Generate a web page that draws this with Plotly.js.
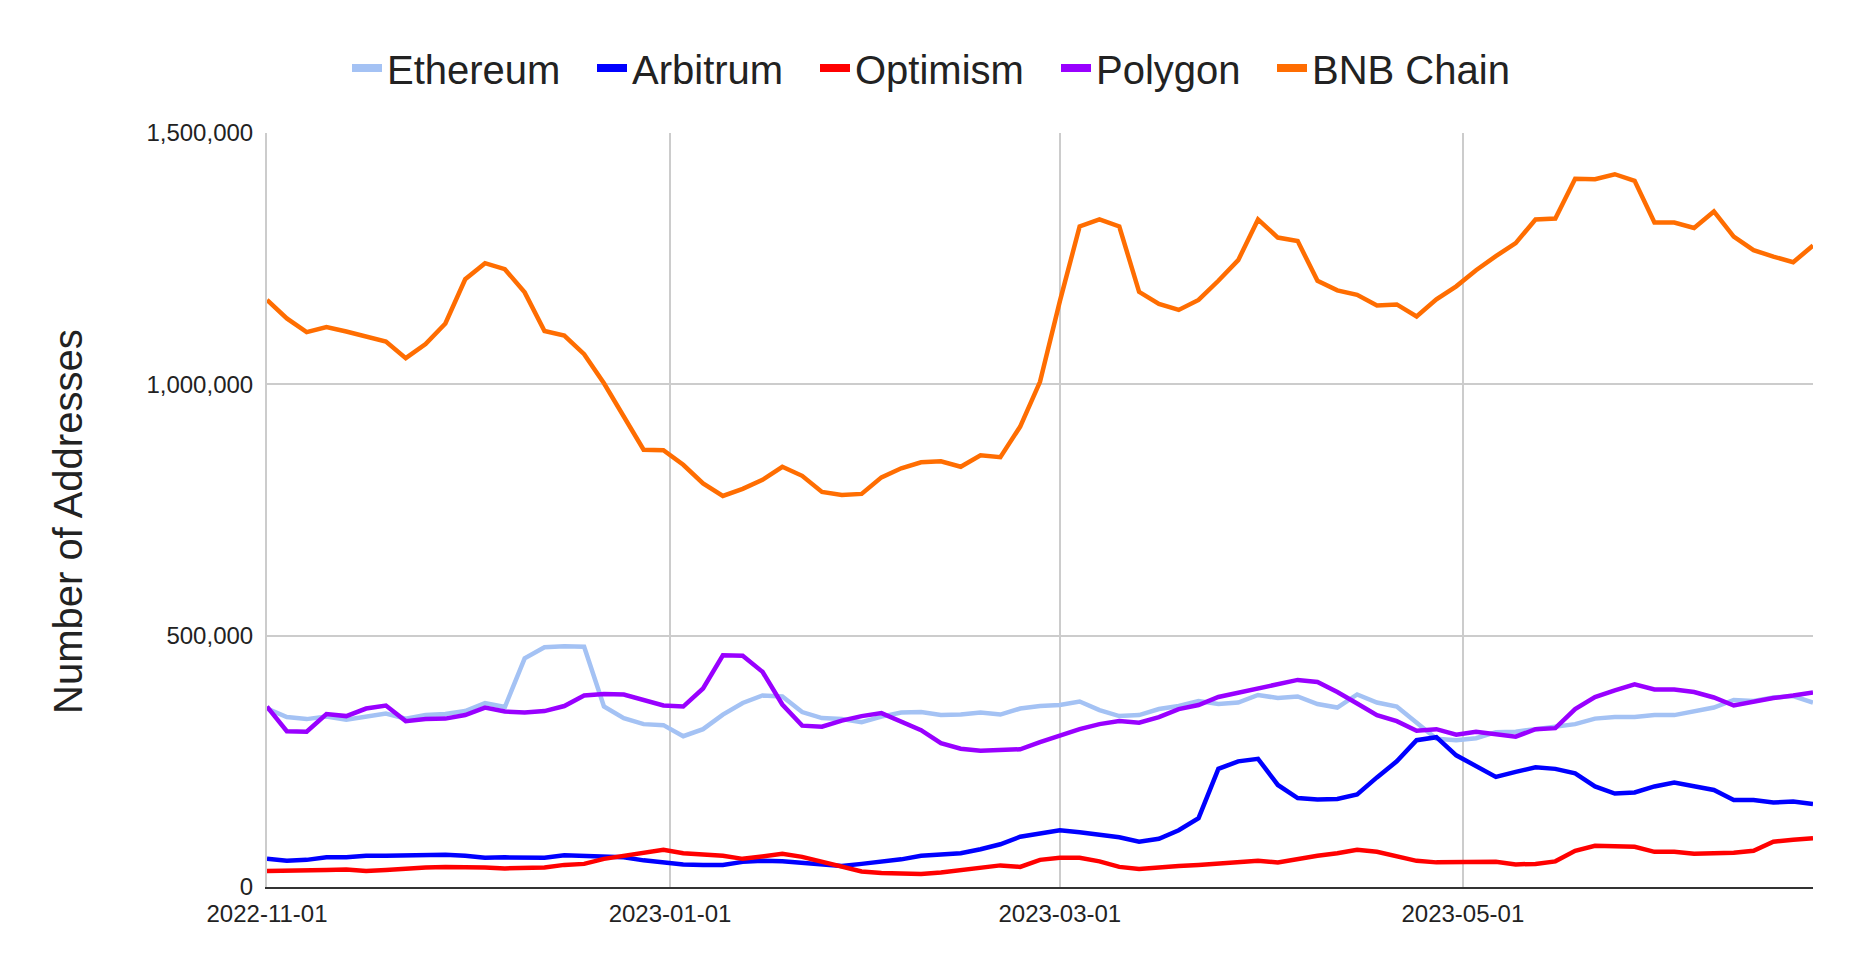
<!DOCTYPE html>
<html>
<head>
<meta charset="utf-8">
<script src="https://cdn.plot.ly/plotly-3.0.1.min.js"></script>
<style>
  html, body { margin: 0; padding: 0; background: #ffffff; }
  #chart { width: 1862px; height: 972px; }
</style>
</head>
<body>
<div id="chart"></div>
<script>
const dates = [
  '2022-11-01','2022-11-04','2022-11-07','2022-11-10','2022-11-13','2022-11-16','2022-11-19','2022-11-22','2022-11-25','2022-11-28',
  '2022-12-01','2022-12-04','2022-12-07','2022-12-10','2022-12-13','2022-12-16','2022-12-19','2022-12-22','2022-12-25','2022-12-28',
  '2022-12-31','2023-01-03','2023-01-06','2023-01-09','2023-01-12','2023-01-15','2023-01-18','2023-01-21','2023-01-24','2023-01-27',
  '2023-01-30','2023-02-02','2023-02-05','2023-02-08','2023-02-11','2023-02-14','2023-02-17','2023-02-20','2023-02-23','2023-02-26',
  '2023-03-01','2023-03-04','2023-03-07','2023-03-10','2023-03-13','2023-03-16','2023-03-19','2023-03-22','2023-03-25','2023-03-28',
  '2023-03-31','2023-04-03','2023-04-06','2023-04-09','2023-04-12','2023-04-15','2023-04-18','2023-04-21','2023-04-24','2023-04-27',
  '2023-04-30','2023-05-03','2023-05-06','2023-05-09','2023-05-12','2023-05-15','2023-05-18','2023-05-21','2023-05-24','2023-05-27',
  '2023-05-30','2023-06-02','2023-06-05','2023-06-08','2023-06-11','2023-06-14','2023-06-17','2023-06-20','2023-06-23'
];

const ethereum = [
  355000,338000,334000,339000,333000,340000,345000,335000,342000,344000,
  350000,366000,358000,455000,477000,479000,478000,359000,336000,324000,
  322000,300000,314000,343000,366000,381000,379000,348000,336000,334000,
  328000,339000,347000,348000,342000,343000,347000,343000,355000,360000,
  362000,369000,352000,340000,342000,354000,360000,370000,364000,367000,
  382000,376000,379000,364000,357000,383000,367000,359000,326000,295000,
  292000,296000,308000,309000,314000,318000,324000,335000,338000,338000,
  342000,342000,350000,357000,372000,370000,377000,380000,367000
];

const arbitrum = [
  56000,52000,54000,59000,59000,62000,62000,63000,65000,64000,
  62000,58000,59000,59000,58000,63000,62000,62000,59000,53000,
  49000,45000,44000,44000,50000,52000,51000,48000,44000,42000,
  46000,50000,55000,62000,64000,67000,75000,85000,100000,107000,
  113000,109000,104000,99000,90000,96000,113000,137000,235000,250000,
  255000,203000,177000,174000,175000,184000,218000,250000,292000,298000,
  262000,241000,219000,229000,238000,235000,226000,200000,186000,188000,
  200000,208000,201000,193000,173000,173000,168000,170000,165000
];

const optimism = [
  32000,32000,34000,34000,35000,32000,34000,37000,39000,40000,
  40000,39000,37000,38000,39000,44000,46000,56000,62000,69000,
  74000,67000,65000,62000,56000,62000,66000,60000,51000,40000,
  31000,28000,28000,26000,29000,34000,39000,43000,40000,54000,
  58000,58000,51000,40000,36000,40000,42000,44000,46000,48000,
  52000,49000,56000,62000,67000,74000,70000,62000,52000,49000,
  49000,50000,50000,45000,46000,51000,72000,82000,80000,80000,
  70000,70000,66000,66000,68000,72000,90000,94000,97000
];

const polygon = [
  359000,310000,309000,344000,340000,355000,361000,330000,334000,335000,
  342000,357000,349000,347000,350000,360000,381000,384000,383000,371000,
  361000,359000,395000,461000,460000,428000,363000,321000,319000,331000,
  340000,346000,328000,312000,286000,275000,271000,273000,274000,288000,
  302000,314000,324000,330000,327000,338000,354000,362000,378000,386000,
  395000,402000,412000,408000,388000,365000,342000,330000,311000,314000,
  303000,309000,304000,299000,314000,316000,354000,378000,391000,403000,
  393000,393000,388000,377000,361000,369000,376000,381000,387000
];

const bnbChain = [
  1168000,1131000,1104000,1114000,1105000,1095000,1085000,1052000,1080000,1121000,
  1209000,1241000,1229000,1183000,1106000,1097000,1060000,1002000,934000,870000,
  869000,840000,803000,778000,792000,810000,836000,818000,786000,780000,
  782000,815000,833000,845000,847000,836000,859000,855000,916000,1005000,
  1165000,1314000,1328000,1314000,1184000,1160000,1148000,1168000,1206000,1247000,
  1328000,1292000,1285000,1206000,1187000,1178000,1157000,1159000,1135000,1169000,
  1195000,1227000,1255000,1281000,1328000,1330000,1409000,1408000,1418000,1405000,
  1322000,1322000,1311000,1344000,1294000,1267000,1254000,1243000,1276000
];

const seriesNames = ['Ethereum', 'Arbitrum', 'Optimism', 'Polygon', 'BNB Chain'];
const seriesValues = [ethereum, arbitrum, optimism, polygon, bnbChain];
const seriesColors = ['#a4c2f4', '#0000ff', '#ff0000', '#9900ff', '#ff6d01'];
const legendWidths = [200, 178, 196, 171, 200];

const xTickVals = ['2022-11-01', '2023-01-01', '2023-03-01', '2023-05-01'];
const xTickText = ['2022-11-01', '2023-01-01', '2023-03-01', '2023-05-01'];
const yTickVals = [0, 500000, 1000000, 1500000];
const xRange = ['2022-11-01', '2023-06-23'];
const yRange = [0, 1500000];
const yTitle = 'Number of Addresses';

const traces = [];
seriesNames.forEach((name, i) => {
  traces.push({
    type: 'scatter', mode: 'lines', name: name,
    x: dates, y: seriesValues[i],
    line: { color: seriesColors[i], width: 4.5 },
    showlegend: false, hoverinfo: 'x+y+name'
  });
});
// legend-only entries (thicker swatch like the original)
seriesNames.forEach((name, i) => {
  traces.push({
    type: 'scatter', mode: 'lines', name: name,
    x: [null], y: [null],
    line: { color: seriesColors[i], width: 8 },
    showlegend: true, legendwidth: legendWidths[i], hoverinfo: 'skip'
  });
});

const font = "Arial, 'Liberation Sans', sans-serif";

const layout = {
  width: 1862, height: 972,
  margin: { l: 267, r: 49, t: 133, b: 85 },
  paper_bgcolor: '#ffffff', plot_bgcolor: '#ffffff',
  font: { family: font, color: '#222222' },
  showlegend: true,
  legend: {
    orientation: 'h', xref: 'container', yref: 'container',
    x: 347 / 1862, xanchor: 'left', y: 1 - 68 / 972, yanchor: 'middle',
    font: { size: 40, color: '#222222', family: font },
    itemwidth: 30, bgcolor: 'rgba(0,0,0,0)', traceorder: 'normal'
  },
  xaxis: {
    type: 'date', range: xRange, tickvals: xTickVals, ticktext: xTickText,
    showgrid: true, gridcolor: '#cccccc', gridwidth: 2,
    zeroline: false, showline: true, linecolor: '#333333', linewidth: 2,
    ticks: '', ticklabelstandoff: 4,
    tickfont: { size: 24, color: '#222222', family: font },
    fixedrange: true
  },
  yaxis: {
    range: yRange, tickvals: yTickVals, tickformat: ',',
    showgrid: true, gridcolor: '#cccccc', gridwidth: 2,
    zeroline: false, showline: true, linecolor: '#cccccc', linewidth: 2,
    ticks: '', ticklabelstandoff: 7,
    tickfont: { size: 24, color: '#222222', family: font },
    fixedrange: true
  },
  annotations: [{
    text: yTitle, textangle: -90, showarrow: false,
    xref: 'paper', x: (68 - 267) / 1546, xanchor: 'center',
    yref: 'paper', y: (887 - 522) / 754, yanchor: 'middle',
    font: { size: 40, color: '#222222', family: font }
  }]
};

Plotly.newPlot('chart', traces, layout, { displayModeBar: false, staticPlot: true });
</script>
</body>
</html>
